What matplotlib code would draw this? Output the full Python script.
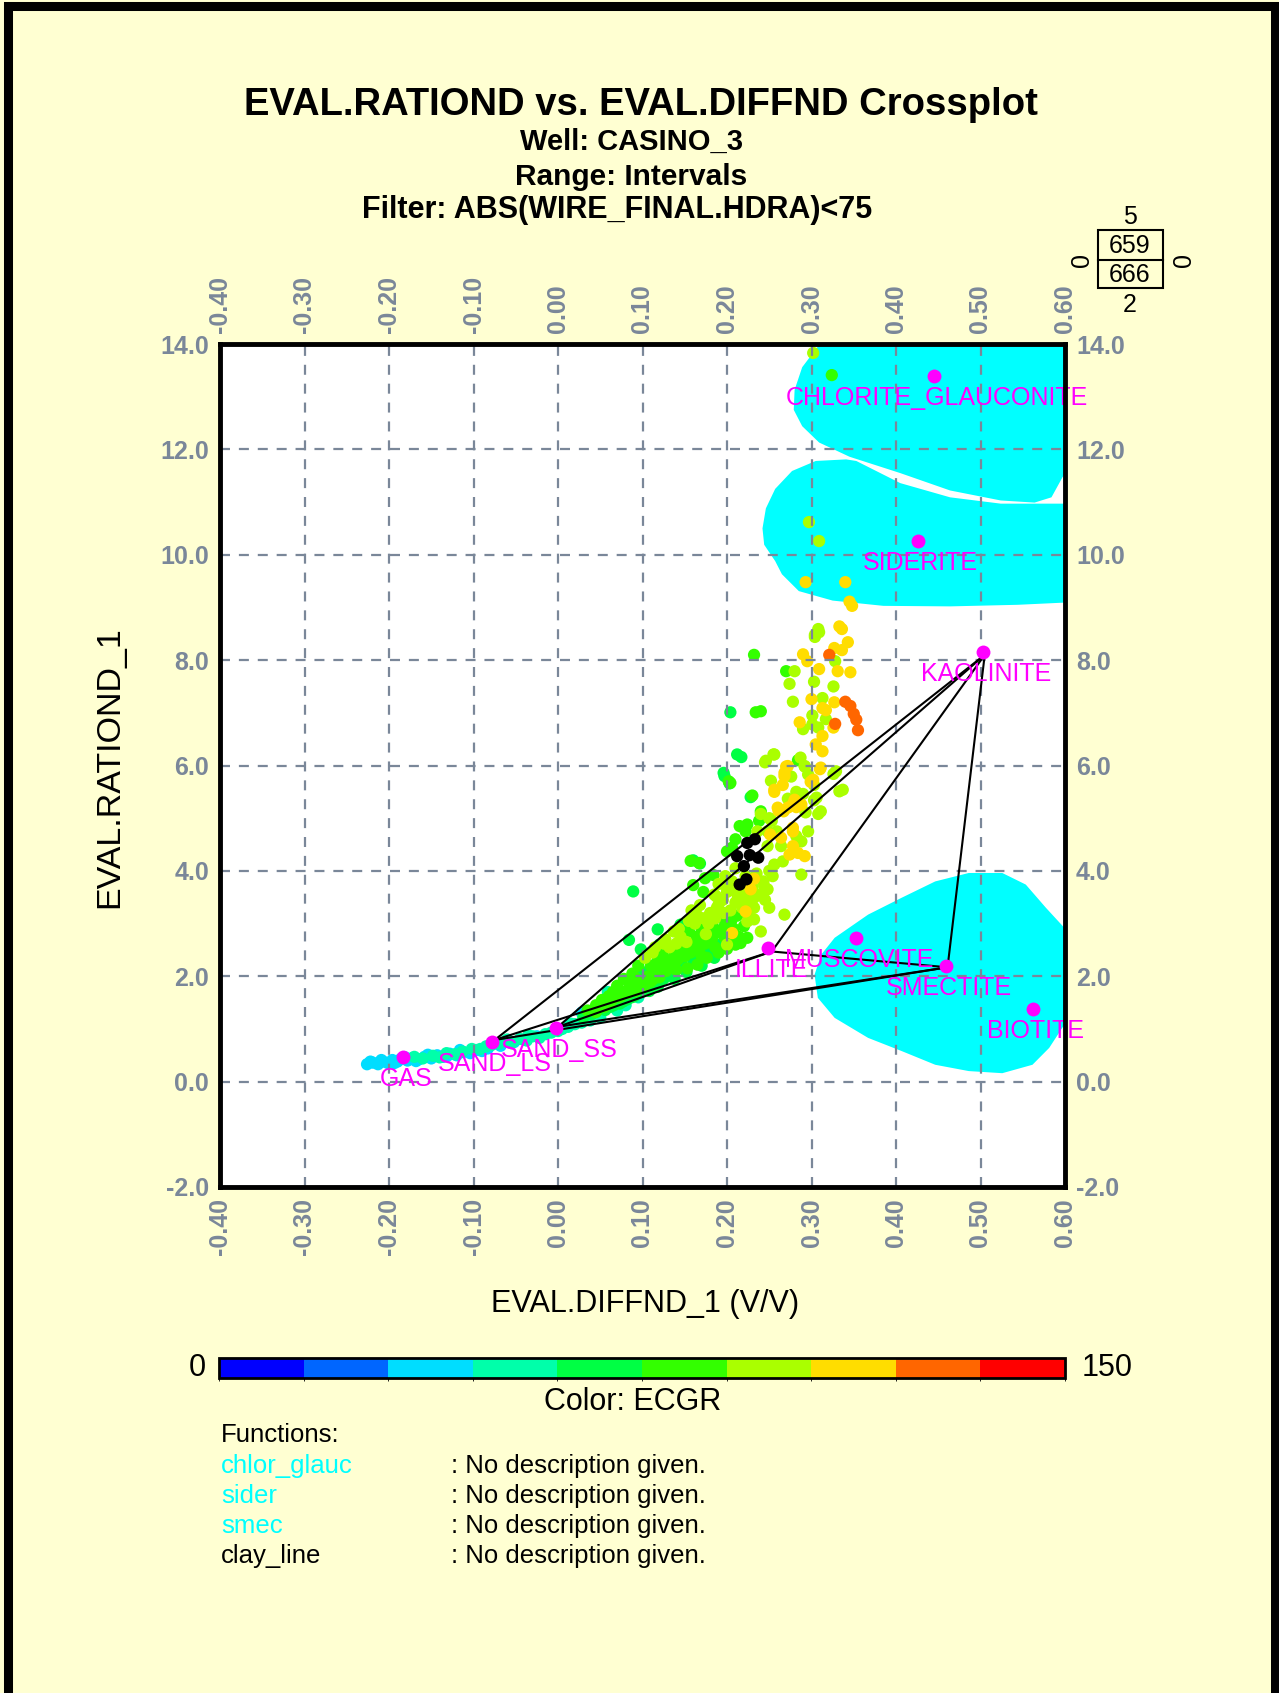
'''EVAL.RATIOND vs EVAL.DIFFND crossplot, CASINO_3.'''

import numpy as np
import matplotlib
matplotlib.use('Agg')
import matplotlib.pyplot as plt
from matplotlib.colors import ListedColormap, BoundaryNorm
from matplotlib.patches import Polygon, Rectangle
import matplotlib.colorbar as mcolorbar

plt.rcParams['font.family'] = ['Liberation Sans', 'DejaVu Sans']

BG = '#FFFFD2'
GREY = '#7A8799'
MAGENTA = '#FF00FF'
CYAN = '#00FFFF'

# ECGR colour scale (0-150, 10 classes)
gr_colors = ['#0000FF', '#0066FF', '#00DDFF', '#00FFAA', '#00FF44',
             '#33FF00', '#AAFF00', '#FFDD00', '#FF6600', '#FF0000']
gr_bounds = np.linspace(0, 150, 11)

x_ticks = [-0.4, -0.3, -0.2, -0.1, 0.0, 0.1, 0.2, 0.3, 0.4, 0.5, 0.6]
x_tick_labels = ['-0.40', '-0.30', '-0.20', '-0.10', '0.00', '0.10', '0.20',
                 '0.30', '0.40', '0.50', '0.60']
y_ticks = [-2, 0, 2, 4, 6, 8, 10, 12, 14]
y_tick_labels = ['-2.0', '0.0', '2.0', '4.0', '6.0', '8.0', '10.0', '12.0', '14.0']

# data points (DIFFND, RATIOND) grouped by ECGR colour class
gr38_pts = [(-0.226, 0.33), (-0.219, 0.36), (-0.213, 0.33), (-0.207, 0.38), (-0.201, 0.35),
            (-0.196, 0.41), (-0.19, 0.38), (-0.186, 0.43), (-0.178, 0.4), (-0.172, 0.45),
            (-0.165, 0.42), (-0.158, 0.47), (-0.15, 0.44), (-0.143, 0.5), (-0.136, 0.47),
            (-0.128, 0.53), (-0.12, 0.5), (-0.112, 0.56), (-0.104, 0.54), (-0.097, 0.6),
            (-0.09, 0.58), (-0.083, 0.63), (-0.068, 0.68), (-0.052, 0.75), (-0.04, 0.8),
            (-0.025, 0.86), (0.028, 1.31), (0.036, 1.22), (0.045, 1.27), (-0.222, 0.38),
            (-0.209, 0.41), (-0.194, 0.35), (-0.181, 0.46), (-0.168, 0.39), (-0.154, 0.51),
            (-0.131, 0.49), (-0.116, 0.6)]
gr52_pts = [(-0.17, 0.47), (-0.16, 0.44), (-0.148, 0.49), (-0.14, 0.46), (-0.132, 0.54),
            (-0.122, 0.52), (-0.113, 0.57), (-0.102, 0.62), (-0.092, 0.62), (-0.085, 0.67),
            (-0.07, 0.72), (-0.062, 0.77), (-0.055, 0.73), (-0.045, 0.81), (-0.037, 0.78),
            (-0.03, 0.86), (-0.022, 0.83), (-0.015, 0.9), (-0.008, 0.93), (0.005, 1.0),
            (0.012, 1.04), (0.02, 1.09), (0.028, 1.12), (0.038, 1.16), (0.05, 1.22),
            (0.059, 1.7), (0.07, 1.35), (0.08, 1.45), (0.095, 1.6), (-0.078, 0.7),
            (-0.06, 0.8), (-0.035, 0.88), (0.0, 0.96), (0.015, 1.1), (0.032, 1.18)]
gr68_pts = [(0.03, 1.22), (0.04, 1.28), (0.05, 1.38), (0.058, 1.47), (0.062, 1.42),
            (0.068, 1.55), (0.073, 1.48), (0.082, 1.56), (0.09, 1.62), (0.097, 1.7),
            (0.105, 1.78), (0.115, 1.85), (0.125, 1.95), (0.133, 2.02), (0.147, 2.2),
            (0.16, 2.3), (0.178, 2.45), (0.192, 2.6), (0.1, 2.08), (0.12, 2.6),
            (0.145, 2.98), (0.089, 3.61), (0.084, 2.69), (0.098, 2.51), (0.118, 2.89),
            (0.197, 5.8), (0.203, 5.66), (0.204, 7.01), (0.16, 4.2), (0.168, 4.14),
            (0.196, 5.86), (0.228, 5.4), (0.212, 6.21), (0.217, 6.16), (0.056, 1.36),
            (0.066, 1.45), (0.077, 1.52), (0.087, 1.6), (0.108, 1.72), (0.118, 1.8),
            (0.138, 1.95), (0.152, 2.08), (0.17, 2.2), (0.185, 2.35), (0.128, 2.25)]
gr82_pts = [(0.035, 1.35), (0.045, 1.45), (0.052, 1.55), (0.06, 1.62), (0.065, 1.7),
            (0.07, 1.82), (0.075, 1.63), (0.078, 1.95), (0.08, 1.72), (0.085, 1.85),
            (0.088, 2.05), (0.09, 1.78), (0.093, 1.95), (0.095, 2.2), (0.1, 1.88),
            (0.107, 2.0), (0.11, 2.2), (0.11, 1.9), (0.117, 2.1), (0.118, 2.3),
            (0.12, 1.98), (0.122, 2.2), (0.124, 2.4), (0.128, 2.1), (0.13, 2.3),
            (0.135, 2.2), (0.138, 2.45), (0.14, 2.12), (0.142, 2.32), (0.148, 2.5),
            (0.15, 2.38), (0.153, 2.15), (0.157, 2.45), (0.16, 2.6), (0.165, 2.22),
            (0.167, 2.5), (0.17, 2.38), (0.174, 2.62), (0.182, 2.7), (0.186, 2.55),
            (0.19, 2.85), (0.197, 2.75), (0.202, 2.68), (0.208, 2.9), (0.214, 2.75),
            (0.22, 2.95), (0.155, 2.85), (0.164, 2.75), (0.17, 2.9), (0.183, 2.95),
            (0.194, 3.1), (0.2, 3.0), (0.212, 3.15), (0.226, 3.1), (0.157, 4.19),
            (0.167, 4.15), (0.2, 4.37), (0.206, 4.44), (0.174, 3.86), (0.184, 3.92),
            (0.16, 3.73), (0.172, 3.6), (0.204, 5.67), (0.23, 5.43), (0.232, 8.1),
            (0.27, 7.79), (0.234, 7.01), (0.24, 7.03), (0.284, 6.1), (0.202, 5.7),
            (0.224, 4.88), (0.222, 4.75), (0.24, 5.13), (0.238, 4.95), (0.324, 13.41),
            (0.216, 2.63), (0.224, 2.73), (0.21, 4.6), (0.215, 4.85), (0.045, 1.32),
            (0.055, 1.42), (0.063, 1.52), (0.072, 1.6), (0.083, 1.68), (0.092, 1.72),
            (0.102, 1.8), (0.113, 1.95), (0.121, 2.05), (0.131, 2.15), (0.139, 2.28),
            (0.146, 2.38), (0.156, 2.55), (0.166, 2.65), (0.176, 2.35), (0.185, 2.8),
            (0.195, 2.9), (0.205, 3.05), (0.19, 2.45), (0.2, 2.52), (0.21, 2.6)]
gr98_pts = [(0.103, 2.35), (0.112, 2.45), (0.127, 2.7), (0.132, 2.55), (0.137, 2.85),
            (0.14, 2.62), (0.145, 2.75), (0.152, 2.65), (0.162, 3.0), (0.172, 3.1),
            (0.175, 2.8), (0.18, 3.2), (0.188, 3.3), (0.195, 3.45), (0.2, 3.6),
            (0.204, 3.25), (0.21, 3.4), (0.218, 3.3), (0.224, 3.5), (0.232, 3.3),
            (0.238, 3.55), (0.243, 3.8), (0.25, 4.0), (0.158, 3.25), (0.168, 3.35),
            (0.185, 3.55), (0.19, 3.75), (0.215, 3.62), (0.23, 3.7), (0.235, 3.95),
            (0.198, 3.9), (0.206, 3.8), (0.21, 4.05), (0.222, 3.9), (0.302, 13.83),
            (0.297, 10.62), (0.309, 10.26), (0.309, 8.53), (0.304, 8.44), (0.308, 8.59),
            (0.304, 8.48), (0.328, 7.98), (0.28, 7.79), (0.303, 7.59), (0.274, 7.55),
            (0.326, 7.5), (0.278, 7.21), (0.313, 7.28), (0.301, 6.95), (0.317, 6.88),
            (0.301, 6.78), (0.308, 6.72), (0.29, 6.69), (0.255, 6.21), (0.245, 6.06),
            (0.292, 5.98), (0.326, 5.84), (0.276, 5.79), (0.252, 5.71), (0.303, 5.63),
            (0.282, 5.5), (0.29, 5.46), (0.333, 5.51), (0.272, 5.37), (0.303, 5.34),
            (0.24, 5.08), (0.293, 5.11), (0.308, 5.08), (0.253, 4.95), (0.236, 4.75),
            (0.259, 4.75), (0.282, 4.66), (0.256, 6.21), (0.246, 6.09), (0.292, 5.99),
            (0.296, 5.83), (0.287, 6.15), (0.337, 5.54), (0.329, 5.89), (0.311, 5.13),
            (0.306, 5.39), (0.288, 4.56), (0.25, 5.0), (0.248, 4.75), (0.296, 4.75),
            (0.248, 4.47), (0.264, 4.47), (0.288, 3.93), (0.256, 4.12), (0.254, 3.9),
            (0.266, 4.18), (0.244, 3.71), (0.248, 3.65), (0.268, 3.17), (0.2, 3.68),
            (0.21, 3.61), (0.224, 3.42), (0.232, 3.49), (0.187, 3.52), (0.19, 3.36),
            (0.224, 3.04), (0.232, 3.08), (0.2, 2.6), (0.24, 2.85), (0.25, 3.3),
            (0.115, 2.55), (0.125, 2.62), (0.143, 2.9), (0.155, 3.05), (0.165, 3.15),
            (0.178, 3.0), (0.186, 3.1), (0.196, 3.2), (0.213, 3.5), (0.22, 3.75),
            (0.226, 3.25), (0.245, 3.45)]
gr112_pts = [(0.345, 9.11), (0.333, 8.64), (0.343, 8.34), (0.336, 8.19), (0.327, 8.23),
             (0.29, 8.11), (0.295, 7.98), (0.309, 7.83), (0.331, 7.79), (0.346, 7.77),
             (0.3, 7.26), (0.327, 7.2), (0.313, 7.09), (0.317, 7.05), (0.286, 6.82),
             (0.326, 6.72), (0.313, 6.56), (0.305, 6.4), (0.313, 6.27), (0.27, 5.98),
             (0.31, 5.93), (0.268, 5.8), (0.266, 5.63), (0.299, 5.69), (0.256, 5.5),
             (0.278, 5.27), (0.282, 5.21), (0.261, 5.14), (0.267, 5.13), (0.278, 4.75),
             (0.251, 4.69), (0.272, 5.2), (0.278, 4.82), (0.274, 4.31), (0.284, 4.34),
             (0.292, 4.28), (0.272, 5.99), (0.311, 5.96), (0.302, 5.73), (0.268, 5.86),
             (0.256, 5.54), (0.26, 5.2), (0.28, 5.35), (0.288, 5.26), (0.264, 4.63),
             (0.278, 4.47), (0.222, 3.23), (0.206, 2.82), (0.293, 9.48), (0.34, 9.48),
             (0.348, 9.03), (0.336, 8.59), (0.232, 3.85), (0.228, 3.65)]
gr128_pts = [(0.321, 8.1), (0.34, 7.21), (0.346, 7.13), (0.35, 6.98), (0.353, 6.87),
             (0.355, 6.67), (0.328, 6.79)]
gr_groups = {38: gr38_pts, 52: gr52_pts, 68: gr68_pts, 82: gr82_pts,
             98: gr98_pts, 112: gr112_pts, 128: gr128_pts}
# points drawn black in the plot
black_pts = [(0.233, 4.6), (0.224, 4.53), (0.212, 4.28), (0.227, 4.3), (0.237, 4.25),
             (0.22, 4.09), (0.223, 3.84), (0.215, 3.74)]

# mineral end points
mineral_names = ['GAS', 'SAND_LS', 'SAND_SS', 'ILLITE', 'MUSCOVITE', 'SMECTITE',
                 'BIOTITE', 'KAOLINITE', 'SIDERITE', 'CHLORITE_GLAUCONITE']
mineral_x = [-0.183, -0.078, -0.002, 0.249, 0.353, 0.459, 0.562, 0.503, 0.426, 0.445]
mineral_y = [0.47, 0.76, 1.02, 2.54, 2.73, 2.20, 1.38, 8.16, 10.27, 13.4]

# function regions
chlor_glauc_x = [0.33, 0.307, 0.289, 0.28, 0.279, 0.289, 0.309, 0.345, 0.405, 0.464,
                 0.524, 0.564, 0.584, 0.597, 0.62, 0.66, 0.66]
chlor_glauc_y = [14.4, 13.94, 13.56, 13.13, 12.75, 12.44, 12.13, 11.86, 11.55, 11.22,
                 11.03, 10.99, 11.09, 11.47, 12.0, 12.5, 14.4]
sider_x = [0.353, 0.341, 0.305, 0.277, 0.257, 0.246, 0.242, 0.244, 0.257, 0.265, 0.285,
           0.325, 0.385, 0.464, 0.544, 0.597, 0.66, 0.66, 0.597, 0.524, 0.464, 0.405]
sider_y = [11.78, 11.81, 11.78, 11.59, 11.25, 10.88, 10.5, 10.19, 9.88, 9.63, 9.31,
           9.13, 9.03, 9.02, 9.05, 9.09, 9.1, 10.97, 10.97, 10.97, 11.09, 11.36]
smec_x = [0.3036, 0.3075, 0.3274, 0.367, 0.4067, 0.4464, 0.4861, 0.5258, 0.5615, 0.5813,
          0.5992, 0.66, 0.66, 0.5992, 0.5774, 0.5536, 0.5258, 0.4861, 0.4464, 0.4067,
          0.367, 0.3274, 0.3115]
smec_y = [2.03, 1.59, 1.21, 0.83, 0.58, 0.32, 0.2, 0.16, 0.32, 0.64, 1.08, 1.5, 2.5, 2.92,
          3.3, 3.74, 3.96, 3.96, 3.8, 3.49, 3.17, 2.73, 2.41]

# clay line network
clay_nodes = {'SAND_LS': (-0.075, 0.79), 'SAND_SS': (0.0, 1.04), 'ILLITE': (0.253, 2.47),
              'KAOLINITE': (0.505, 8.1), 'SMECTITE': (0.461, 2.17)}
clay_segments = [('SAND_LS', 'KAOLINITE'), ('SAND_SS', 'KAOLINITE'), ('SAND_LS', 'ILLITE'),
                 ('SAND_SS', 'ILLITE'), ('SAND_LS', 'SMECTITE'), ('SAND_SS', 'SMECTITE'),
                 ('ILLITE', 'KAOLINITE'), ('ILLITE', 'SMECTITE'), ('SMECTITE', 'KAOLINITE')]

functions = ['chlor_glauc', 'sider', 'smec', 'clay_line']
function_colors = [CYAN, CYAN, CYAN, 'black']

W, H = 1279, 1693


def fx(px):
    return px / W


def fy(py):
    return 1 - py / H


fig = plt.figure(figsize=(W / 100, H / 100), dpi=100, facecolor=BG)
ax = fig.add_axes([fx(220), fy(1187), fx(1065) - fx(220), fy(344) - fy(1187)])
ax.set_facecolor('white')
ax.set_xlim(-0.4, 0.6)
ax.set_ylim(-2, 14)

for px_, py_ in [(chlor_glauc_x, chlor_glauc_y), (sider_x, sider_y), (smec_x, smec_y)]:
    ax.add_patch(Polygon(np.column_stack([px_, py_]), closed=True, facecolor=CYAN,
                         edgecolor='none', zorder=1))

ax.grid(True, color=GREY, linestyle=(0, (4.5, 4.0)), linewidth=1.6)
ax.set_axisbelow(False)
for gl in ax.get_xgridlines() + ax.get_ygridlines():
    gl.set_zorder(1.5)

cmap = ListedColormap(gr_colors)
norm = BoundaryNorm(gr_bounds, cmap.N)
diffnd, rationd, ecgr = [], [], []
for gr, pts in gr_groups.items():
    for x, y in pts:
        diffnd.append(x)
        rationd.append(y)
        ecgr.append(gr)
ax.scatter(diffnd, rationd, c=ecgr, cmap=cmap, norm=norm, s=78, edgecolors='none', zorder=2)
bx, by = zip(*black_pts)
ax.scatter(bx, by, c='black', s=78, edgecolors='none', zorder=2)

for a, b in clay_segments:
    (x0, y0), (x1, y1) = clay_nodes[a], clay_nodes[b]
    ax.plot([x0, x1], [y0, y1], color='black', lw=1.5, zorder=3)

ax.plot(mineral_x, mineral_y, 'o', color=MAGENTA, ms=10, mec='none', zorder=4)
for name, x, y in zip(mineral_names, mineral_x, mineral_y):
    ax.annotate(name, (x, y), xytext=(2, -16), textcoords='offset points', ha='center',
                va='center', color=MAGENTA, fontsize=18, zorder=5, annotation_clip=False)

for sp in ax.spines.values():
    sp.set_linewidth(3.5)
    sp.set_zorder(6)

ax.set_xticks(x_ticks)
ax.set_xticklabels(x_tick_labels, fontweight='bold')
ax.set_yticks(y_ticks)
ax.set_yticklabels(y_tick_labels, fontweight='bold')
ax.tick_params(axis='x', top=True, labeltop=True, bottom=True, labelbottom=True,
               labelrotation=90, length=0, pad=8, labelsize=18, labelcolor=GREY)
ax.tick_params(axis='y', left=True, right=True, labelright=True, length=0, pad=8,
               labelsize=18, labelcolor=GREY)

# titles
fig.text(fx(641), fy(105), 'EVAL.RATIOND vs. EVAL.DIFFND Crossplot', ha='center',
         va='center', fontsize=27.5, fontweight='bold')
fig.text(fx(632), fy(142), 'Well: CASINO_3', ha='center', va='center', fontsize=21,
         fontweight='bold')
fig.text(fx(631), fy(177), 'Range: Intervals', ha='center', va='center', fontsize=21.5,
         fontweight='bold')
fig.text(fx(617), fy(210), 'Filter: ABS(WIRE_FINAL.HDRA)<75', ha='center', va='center',
         fontsize=22, fontweight='bold')

fig.text(fx(110), fy(767), 'EVAL.RATIOND_1', rotation=90, ha='center', va='center',
         fontsize=24.5)
fig.text(fx(645), fy(1304), 'EVAL.DIFFND_1 (V/V)', ha='center', va='center', fontsize=22)

# point count box
box = Rectangle((fx(1098), fy(288)), fx(1163) - fx(1098), fy(230) - fy(288),
                transform=fig.transFigure, facecolor='none', edgecolor='black', lw=1.5)
fig.add_artist(box)
fig.add_artist(plt.Line2D([fx(1098), fx(1163)], [fy(260), fy(260)],
                          transform=fig.transFigure, color='black', lw=1.5))
fig.text(fx(1130), fy(246), '659', ha='center', va='center', fontsize=18)
fig.text(fx(1130), fy(275), '666', ha='center', va='center', fontsize=18)
fig.text(fx(1130), fy(217), '5', ha='center', va='center', fontsize=18)
fig.text(fx(1130), fy(305), '2', ha='center', va='center', fontsize=18)
fig.text(fx(1082), fy(260), '0', ha='center', va='center', fontsize=18, rotation=90)
fig.text(fx(1184), fy(260), '0', ha='center', va='center', fontsize=18, rotation=90)

# colour bar
cax = fig.add_axes([fx(219), fy(1378), fx(1065) - fx(219), fy(1358) - fy(1378)])
cb = mcolorbar.ColorbarBase(cax, cmap=cmap, norm=norm, orientation='horizontal')
cb.set_ticks([])
cb.outline.set_linewidth(2)
fig.text(fx(197), fy(1368), '0', ha='center', va='center', fontsize=22)
fig.text(fx(1107), fy(1368), '150', ha='center', va='center', fontsize=22)
fig.text(fx(633), fy(1402), 'Color: ECGR', ha='center', va='center', fontsize=22)

# functions legend
fig.text(fx(221), fy(1435), 'Functions:', ha='left', va='center', fontsize=18.5)
for i, (fn, col) in enumerate(zip(functions, function_colors)):
    yy = 1466 + 30 * i
    fig.text(fx(221), fy(yy), fn, ha='left', va='center', fontsize=18.5, color=col)
    fig.text(fx(451), fy(yy), ': No description given.', ha='left', va='center',
             fontsize=18.5)

# page border
fig.add_artist(Rectangle((fx(8), fy(1720)), fx(1275) - fx(8), fy(6) - fy(1720),
                         transform=fig.transFigure, facecolor='none', edgecolor='black',
                         lw=6.5))

fig.savefig('out.png', dpi=100, facecolor=BG)
